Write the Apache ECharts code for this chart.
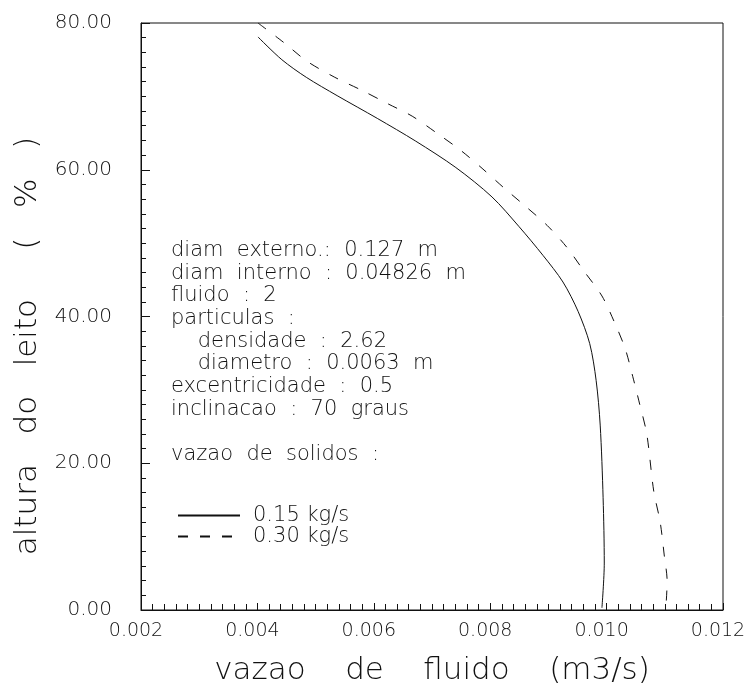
<!DOCTYPE html>
<html><head><meta charset="utf-8">
<script src="https://cdn.jsdelivr.net/npm/echarts@6/dist/echarts.min.js"></script>
<style>html,body{margin:0;padding:0;background:#fff}#chart{width:752px;height:691px}</style>
</head><body><div id="chart"></div>
<script>
// ---- data ----
const xTicks = [0.002, 0.004, 0.006, 0.008, 0.010, 0.012];
const yTicks = [0, 20, 40, 60, 80];
const seriesNames = ['0.15 kg/s', '0.30 kg/s'];

const vazao015 = [0.00401, 0.00442, 0.00484, 0.00537, 0.00606, 0.00672, 0.00741, 0.00803, 0.00849, 0.00891, 0.00925, 0.00951, 0.00971, 0.00982, 0.00989, 0.00994, 0.00996, 0.00992];
const altura015 = [78.1, 75.0, 72.6, 70.1, 67.0, 63.9, 60.3, 56.3, 52.3, 48.3, 44.7, 40.7, 36.3, 31.3, 25.2, 15.3, 6.4, 0.3];

const vazao030 = [0.00401, 0.00446, 0.00485, 0.00533, 0.00580, 0.00624, 0.00666, 0.00710, 0.00750, 0.00786, 0.00824, 0.00858, 0.00898, 0.00932, 0.00961, 0.00992, 0.01013, 0.01032, 0.01045, 0.01057, 0.01069, 0.01081, 0.01092, 0.01099, 0.01104, 0.01102];
const altura030 = [80.0, 77.3, 74.8, 72.6, 70.8, 69.0, 67.3, 64.9, 62.6, 60.2, 57.5, 55.2, 52.4, 49.4, 46.2, 42.8, 39.3, 35.6, 31.8, 28.0, 24.0, 16.2, 12.0, 7.5, 3.9, 0.5];

const infoLines = [
  'diam  externo.:  0.127  m',
  'diam  interno  :  0.04826  m',
  'fluido  :  2',
  'particulas  :',
  '    densidade  :  2.62',
  '    diametro  :  0.0063  m',
  'excentricidade  :  0.5',
  'inclinacao  :  70  graus'
];
const solidsTitle = 'vazao  de  solidos  :';
const xName = 'vazao    de    fluido    (m3/s)';
const yName = 'altura   do   leito     (   %   )      ';

// ---- chart ----
const FONT = 'DejaVu Sans';
const INK = '#111';
const pairs = (xs, ys) => xs.map((x, i) => [x, ys[i]]);

const graphics = infoLines.map((t, i) => ({
  type: 'text', left: 171, top: 240 + i * 22.7,
  style: { text: t, font: '200 21px "DejaVu Sans"', fill: INK }
}));
graphics.push({
  type: 'text', left: 171, top: 444,
  style: { text: solidsTitle, font: '200 21px "DejaVu Sans"', fill: INK }
});

const chart = echarts.init(document.getElementById('chart'), null, { renderer: 'canvas' });
chart.setOption({
  animation: false,
  backgroundColor: '#fff',
  grid: { left: 141, right: 29, top: 23, bottom: 70, show: true, borderColor: INK, borderWidth: 1, containLabel: false },
  legend: {
    show: true, orient: 'vertical', left: 172, top: 500,
    itemWidth: 62, itemHeight: 10, itemGap: 0,
    data: seriesNames,
    itemStyle: { opacity: 0 },
    textStyle: { fontFamily: FONT, fontWeight: 200, fontSize: 21, color: INK, lineHeight: 18, padding: [0, 0, 0, 8] }
  },
  xAxis: {
    type: 'value', min: xTicks[0], max: xTicks[xTicks.length - 1], interval: 0.002,
    name: xName, nameLocation: 'middle', nameGap: 45,
    nameTextStyle: { fontFamily: FONT, fontWeight: 200, fontSize: 31, color: INK },
    axisLine: { show: true, lineStyle: { color: INK, width: 1 } },
    axisTick: { show: true, inside: true, length: 7, lineStyle: { color: INK } },
    minorTick: { show: true, splitNumber: 10, length: 6, lineStyle: { color: INK } },
    splitLine: { show: false },
    axisLabel: { fontFamily: FONT, fontWeight: 200, fontSize: 19, color: INK, margin: 12, padding: [0, 10, 0, 0],
      formatter: v => v.toFixed(3) }
  },
  yAxis: {
    type: 'value', min: yTicks[0], max: yTicks[yTicks.length - 1], interval: 20,
    name: yName, nameLocation: 'middle', nameGap: 92,
    nameTextStyle: { fontFamily: FONT, fontWeight: 200, fontSize: 31, color: INK },
    axisLine: { show: true, lineStyle: { color: INK, width: 1 } },
    axisTick: { show: true, inside: true, length: 9, lineStyle: { color: INK } },
    minorTick: { show: true, splitNumber: 10, length: 5, lineStyle: { color: INK } },
    splitLine: { show: false },
    axisLabel: { fontFamily: FONT, fontWeight: 200, fontSize: 20, color: INK, margin: 29,
      formatter: v => v.toFixed(2) }
  },
  graphic: graphics,
  series: [
    { name: seriesNames[0], type: 'line', data: pairs(vazao015, altura015), showSymbol: false, symbol: 'none',
      smooth: 0.3, lineStyle: { color: INK, width: 1, type: 'solid' }, itemStyle: { color: INK } },
    { name: seriesNames[1], type: 'line', data: pairs(vazao030, altura030), showSymbol: false, symbol: 'none',
      smooth: 0.3, lineStyle: { color: INK, width: 1, type: [10, 12] }, itemStyle: { color: INK } }
  ]
});
</script></body></html>
